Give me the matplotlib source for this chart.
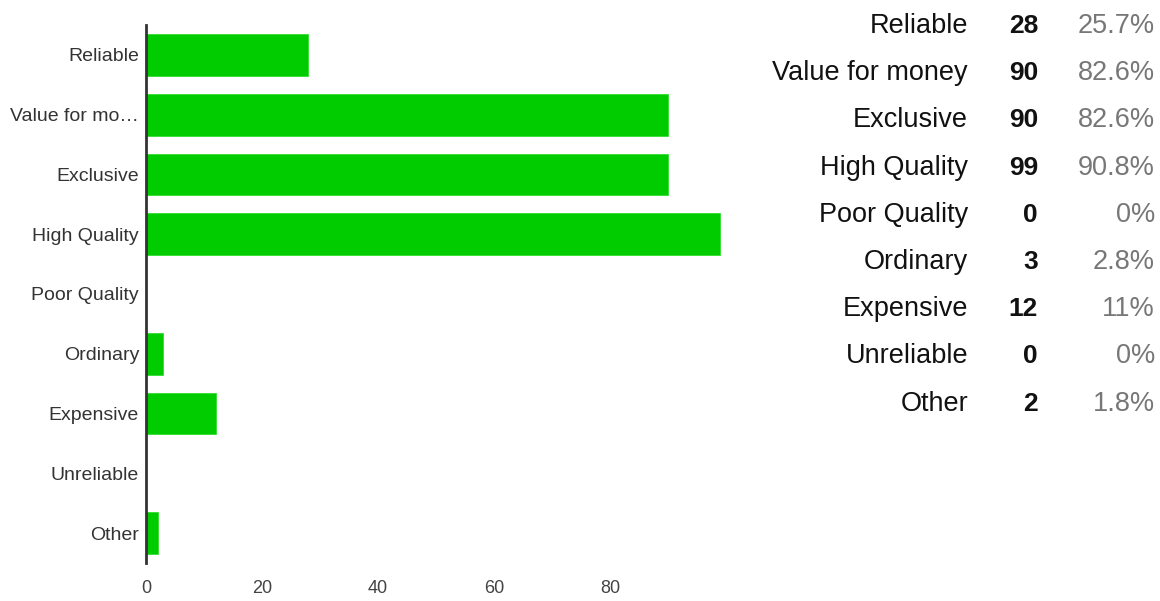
import matplotlib
matplotlib.use("Agg")
import matplotlib.pyplot as plt

# Survey answers and response counts
categories = ["Reliable", "Value for money", "Exclusive", "High Quality",
              "Poor Quality", "Ordinary", "Expensive", "Unreliable", "Other"]
axis_labels = ["Reliable", "Value for mo\u2026", "Exclusive", "High Quality",
               "Poor Quality", "Ordinary", "Expensive", "Unreliable", "Other"]
counts = [28, 90, 90, 99, 0, 3, 12, 0, 2]
percent_labels = ["25.7%", "82.6%", "82.6%", "90.8%", "0%", "2.8%", "11%", "0%", "1.8%"]
x_ticks = [0, 20, 40, 60, 80]

W, H = 1160, 601
fig = plt.figure(figsize=(W / 100, H / 100), dpi=100)
plt.rcParams["font.family"] = ["Liberation Sans", "DejaVu Sans"]

# Bar chart panel
ax = fig.add_axes([146 / W, 1 - 563 / H, (726 - 146) / W, (563 - 25) / H])
ypos = list(range(len(categories)))
ax.barh(ypos, counts, height=0.7, color="#00cc00", edgecolor="#33dd33", linewidth=0.6)
ax.set_xlim(0, 100)
ax.set_ylim(len(categories) - 0.5, -0.5)
ax.set_yticks(ypos)
ax.set_yticklabels(axis_labels, fontsize=14, color="#333333")
ax.set_xticks(x_ticks)
ax.set_xticklabels([str(t) for t in x_ticks], fontsize=13, color="#444444")
ax.tick_params(axis="y", length=0, pad=5)
ax.tick_params(axis="x", length=0, pad=12)
for s in ("top", "right", "bottom"):
    ax.spines[s].set_visible(False)
ax.spines["left"].set_color("#333333")
ax.spines["left"].set_linewidth(2)

# Summary table on the right
row0, step = 26, 47.2
for i, (name, n, pct) in enumerate(zip(categories, counts, percent_labels)):
    y = 1 - (row0 + i * step) / H
    fig.text(968 / W, y, name, ha="right", va="center", fontsize=19.5, color="#111111")
    fig.text(1038 / W, y, str(n), ha="right", va="center", fontsize=19,
             fontweight="bold", color="#111111")
    fig.text(1155 / W, y, pct, ha="right", va="center", fontsize=19.5, color="#777777")

fig.savefig("out.png", dpi=100)
